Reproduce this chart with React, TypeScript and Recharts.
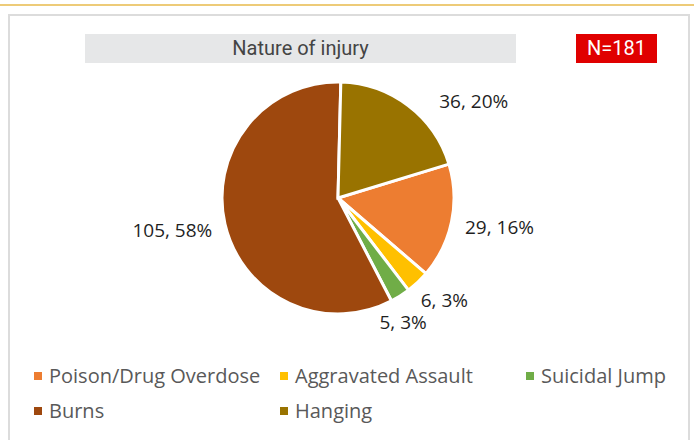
import React from 'react';
import { PieChart, Pie, Cell, Legend } from 'recharts';

const categories = ['Poison/Drug Overdose', 'Aggravated Assault', 'Suicidal Jump', 'Burns', 'Hanging'];
const counts = [29, 6, 5, 105, 36];
const colors = ['#ED7D31', '#FFC000', '#70AD47', '#9E480E', '#997300'];
const chartTitle = 'Nature of injury';
const sampleLabel = 'N=181';

const data = categories.map((name, i) => ({ name, value: counts[i] }));

// first slice (Poison) starts at 73deg clockwise from 12 o'clock, like the Excel original
const firstSliceAngle = 73;
const startAngle = 90 - firstSliceAngle;

// Excel "best fit" moves a couple of labels off the plain radial spot
const labelNudge: Record<string, [number, number]> = {
  Hanging: [36, 15],
  'Suicidal Jump': [-18, 6],
};

const labelFont = '"Open Sans", sans-serif';

const renderLabel = (props: any) => {
  const { cx, cy, midAngle, outerRadius, value, percent, name } = props;
  const rad = Math.PI / 180;
  const cos = Math.cos(-midAngle * rad);
  const sin = Math.sin(-midAngle * rad);
  const text = `${value}, ${Math.round(percent * 100)}%`;
  const halfW = text.length * 5;
  const r = outerRadius + 14;
  const [nx, ny] = labelNudge[name] || [0, 0];
  const x = cx + r * cos + halfW * cos + nx;
  const y = cy + r * sin + 10 * sin + ny;
  return (
    <text
      x={x}
      y={y}
      textAnchor="middle"
      dominantBaseline="central"
      fill="#1f1f1f"
      fontSize={19}
      fontFamily={labelFont}
    >
      {text}
    </text>
  );
};

const renderLegend = (props: any) => {
  const payload = [...(props.payload || [])].sort(
    (a: any, b: any) => categories.indexOf(a.value) - categories.indexOf(b.value)
  );
  return (
    <div style={{ display: 'flex', flexWrap: 'wrap', width: 740, fontFamily: labelFont }}>
      {payload.map((entry: any) => (
        <div
          key={entry.value}
          style={{ width: 246, height: 35, display: 'flex', alignItems: 'center' }}
        >
          <span
            style={{
              display: 'inline-block',
              width: 8,
              height: 8,
              background: entry.color,
              marginRight: 7,
            }}
          />
          <span style={{ color: '#595959', fontSize: 20 }}>{entry.value}</span>
        </div>
      ))}
    </div>
  );
};

const App: React.FC = () => {
  return (
    <div style={{ position: 'relative', width: 694, height: 440, background: '#fff', overflow: 'hidden' }}>
      <style>{'body{margin:0}'}</style>
      <div style={{ position: 'absolute', left: 0, top: 4, width: 694, height: 2, background: '#EDCB78' }} />
      <div
        style={{
          position: 'absolute',
          left: 8,
          top: 14,
          width: 678,
          height: 440,
          border: '2px solid #DCDCDC',
        }}
      />
      <div
        style={{
          position: 'absolute',
          left: 85,
          top: 34,
          width: 431,
          height: 29,
          background: '#E6E7E8',
          color: '#444',
          fontFamily: 'Roboto, sans-serif',
          fontSize: 20,
          lineHeight: '29px',
          textAlign: 'center',
        }}
      >
        {chartTitle}
      </div>
      <div
        style={{
          position: 'absolute',
          left: 576,
          top: 34,
          width: 81,
          height: 29,
          background: '#E00000',
          color: '#fff',
          fontFamily: 'Roboto, sans-serif',
          fontSize: 20,
          lineHeight: '29px',
          textAlign: 'center',
        }}
      >
        {sampleLabel}
      </div>
      <div style={{ position: 'absolute', left: 0, top: 0 }}>
        <PieChart width={694} height={440} margin={{ top: 0, right: 0, bottom: 0, left: 0 }}>
          <Pie
            data={data}
            dataKey="value"
            nameKey="name"
            cx={338}
            cy={198}
            outerRadius={116}
            startAngle={startAngle}
            endAngle={startAngle - 360}
            stroke="#fff"
            strokeWidth={3}
            label={renderLabel}
            labelLine={false}
            isAnimationActive={false}
          >
            {data.map((d, i) => (
              <Cell key={d.name} fill={colors[i]} />
            ))}
          </Pie>
          <Legend
            content={renderLegend}
            wrapperStyle={{ position: 'absolute', left: 34, top: 358, width: 740 }}
          />
        </PieChart>
      </div>
    </div>
  );
};

export default App;
